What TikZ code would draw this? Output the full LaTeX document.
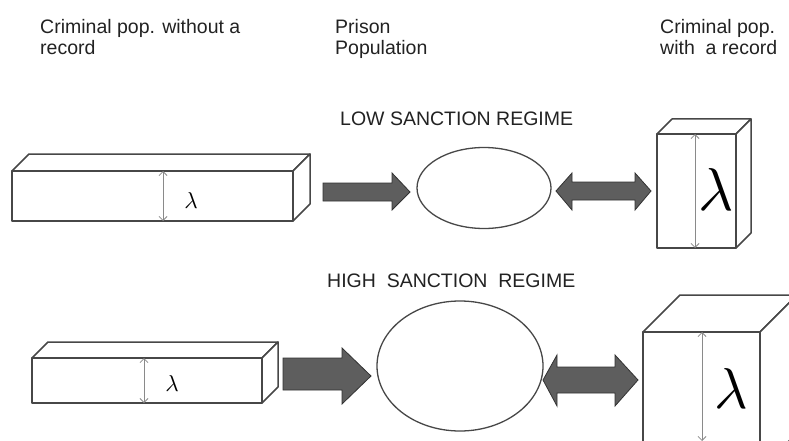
\documentclass[tikz,border=0pt]{standalone}
\usepackage{fontspec}
\setmainfont{Liberation Sans}
\usepackage{graphicx}
\usetikzlibrary{arrows.meta,shapes.geometric}
\definecolor{txt}{HTML}{222222}
\definecolor{edge}{HTML}{474747}
\definecolor{blk}{HTML}{5E5E5E}
\definecolor{lam}{HTML}{8A8A8A}
\tikzset{
  boxline/.style={draw=edge, line width=1.5pt, fill=white, line join=round},
  ell/.style={draw=edge, line width=1.3pt, ellipse, inner sep=0pt},
  blockarrow/.style={draw=edge!70!black, line width=0.8pt, fill=blk, line join=miter},
  lamarrow/.style={draw=lam, line width=0.8pt, {Straight Barb[length=4pt,width=8pt]}-{Straight Barb[length=4pt,width=8pt]}},
  label/.style={text=txt, font=\fontsize{19.5}{21}\selectfont, align=left, anchor=north west, inner sep=0pt},
  title/.style={text=txt, font=\fontsize{19.5}{21}\selectfont, inner sep=0pt, anchor=base west},
  lamtext/.style={text=black, inner sep=0pt},
}
\newcommand{\cuboid}[5]{% x1 y1 x2 y2 depth
  \draw[boxline] (#1,#2) -- ++(#5,-#5) -- (#3+#5,#2-#5) -- (#3,#2) -- cycle;
  \draw[boxline] (#3,#2) -- (#3+#5,#2-#5) -- (#3+#5,#4-#5) -- (#3,#4) -- cycle;
  \draw[boxline] (#1,#2) rectangle (#3,#4);
}
\newcommand{\lam}[1]{\resizebox{!}{#1}{$\lambda$}}
\begin{document}
\begin{tikzpicture}[x=1pt,y=-1pt]
\useasboundingbox (0,0) rectangle (789,441);
\clip (0,0) rectangle (789,441);
\fill[white] (0,0) rectangle (789,441);

% headings
\node[label] (h1) at (40,19) {Criminal pop. without a\\record};
\node[label] (h2) at (335,19) {Prison\\Population};
\node[label] (h3) at (660,19) {Criminal pop.\\with\ \ a record};

\node[title] (low) at (340,125) {LOW SANCTION REGIME};
\node[title] (high) at (327,287) {HIGH\ \ SANCTION\ \ REGIME};

% ---- low regime ----
\cuboid{12}{171}{293}{221}{17}
\coordinate (b1t) at (163,171); \coordinate (b1b) at (163,221);
\draw[lamarrow] (b1t) -- (b1b);
\node[lamtext] (l1) at (191,200) {\lam{16pt}};

\node[ell, minimum width=134pt, minimum height=81pt] (e1) at (484,188) {};

\cuboid{657}{134}{736}{248}{15}
\coordinate (r1t) at (695,134); \coordinate (r1b) at (695,248);
\draw[lamarrow] (r1t) -- (r1b);
\node[lamtext] (l2) at (716,189) {\lam{42pt}};

% block arrow low
\draw[blockarrow] (323,183) -- (392,183) -- (392,173) -- (410,192) -- (392,210) -- (392,201) -- (323,201) -- cycle;
% double arrow low
\draw[blockarrow] (556,191) -- (572,173) -- (572,182) -- (635,182) -- (635,173) -- (651,191) -- (635,210) -- (635,200) -- (572,200) -- (572,210) -- cycle;

% ---- high regime ----
\cuboid{32}{358}{262}{403}{16}
\coordinate (b2t) at (144,358); \coordinate (b2b) at (144,403);
\draw[lamarrow] (b2t) -- (b2b);
\node[lamtext] (l3) at (172,383) {\lam{16pt}};

\node[ell, minimum width=166pt, minimum height=130pt] (e2) at (460,366) {};

\cuboid{643}{332}{760}{470}{37}
\coordinate (r2t) at (702,332); \coordinate (r2b) at (702,441);
\draw[lamarrow] (r2t) -- (r2b);
\node[lamtext] (l4) at (731,388) {\lam{40pt}};

\draw[blockarrow] (283,358) -- (342,358) -- (342,348) -- (371,376) -- (342,404) -- (342,390) -- (283,390) -- cycle;
\draw[blockarrow] (543,380) -- (557,355) -- (557,367) -- (615,367) -- (615,355) -- (638,380) -- (615,406) -- (615,393) -- (557,393) -- (557,406) -- cycle;
\end{tikzpicture}
\end{document}
